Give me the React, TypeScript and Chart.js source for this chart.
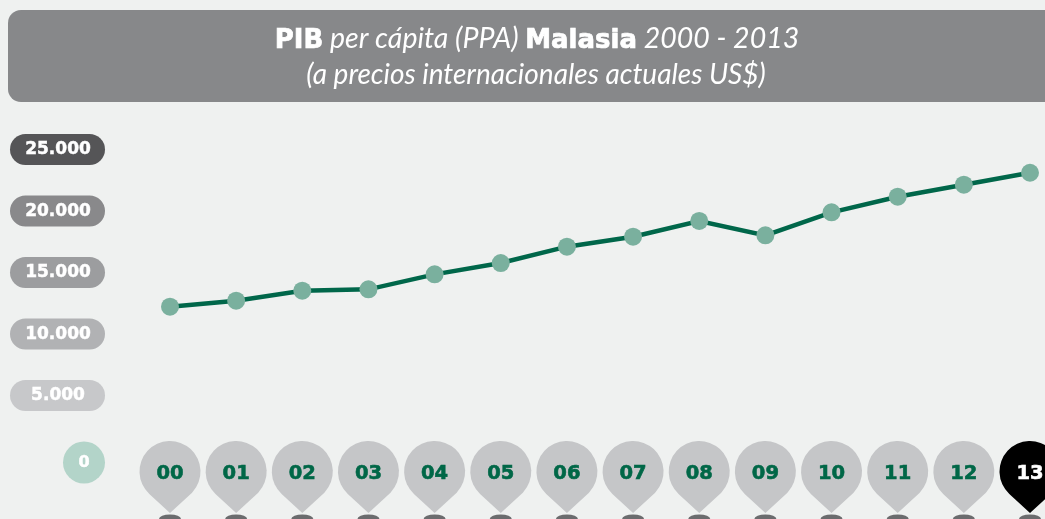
import { useEffect, useRef } from 'react';
import { Chart, registerables } from 'chart.js';

Chart.register(...registerables);

const years = ['00', '01', '02', '03', '04', '05', '06', '07', '08', '09', '10', '11', '12', '13'];
const gdpPerCapita = [12220, 12710, 13520, 13630, 14850, 15770, 17100, 17910, 19190, 18020, 19890, 21160, 22140, 23110];
const yTickValues = [0, 5000, 10000, 15000, 20000, 25000];
const yTickLabels = ['0', '5.000', '10.000', '15.000', '20.000', '25.000'];
const yTickColors = ['#b3d4c9', '#c7c8ca', '#b1b2b4', '#9c9d9f', '#89898b', '#555557'];
const titleLine1 = [
  { text: 'PIB', bold: true },
  { text: ' per cápita (PPA) ', bold: false },
  { text: 'Malasia', bold: true },
  { text: ' 2000 - 2013', bold: false },
];
const titleLine2 = '(a precios internacionales actuales US$)';

const LIGHT = 'Lato, "Open Sans", sans-serif';
const HEAVY = '"DejaVu Sans", Lato, sans-serif';
const BG = '#eff1f0';

function roundRect(ctx: CanvasRenderingContext2D, x: number, y: number, w: number, h: number, r: number) {
  ctx.beginPath();
  ctx.moveTo(x + r, y);
  ctx.lineTo(x + w - r, y);
  ctx.arcTo(x + w, y, x + w, y + r, r);
  ctx.lineTo(x + w, y + h - r);
  ctx.arcTo(x + w, y + h, x + w - r, y + h, r);
  ctx.lineTo(x + r, y + h);
  ctx.arcTo(x, y + h, x, y + h - r, r);
  ctx.lineTo(x, y + r);
  ctx.arcTo(x, y, x + r, y, r);
  ctx.closePath();
}

function heavyText(ctx: CanvasRenderingContext2D, text: string, x: number, y: number, color: string, w: number) {
  ctx.fillStyle = color;
  ctx.strokeStyle = color;
  ctx.lineWidth = w;
  ctx.lineJoin = 'miter';
  ctx.strokeText(text, x, y);
  ctx.fillText(text, x, y);
}

const decorPlugin = {
  id: 'decor',
  beforeDraw(chart: any) {
    const ctx: CanvasRenderingContext2D = chart.ctx;
    ctx.save();
    ctx.fillStyle = BG;
    ctx.fillRect(0, 0, chart.width, chart.height);
    // title box
    ctx.fillStyle = '#87888a';
    roundRect(ctx, 8, 10, 1070, 92, 13);
    ctx.fill();
    ctx.textBaseline = 'alphabetic';
    ctx.textAlign = 'left';
    const fontFor = (b: boolean) => (b ? `bold 26px ${HEAVY}` : `italic 28.5px ${LIGHT}`);
    let total = 0;
    for (const s of titleLine1) {
      ctx.font = fontFor(s.bold);
      total += ctx.measureText(s.text).width;
    }
    let x = 537 - total / 2;
    for (const s of titleLine1) {
      ctx.font = fontFor(s.bold);
      if (s.bold) heavyText(ctx, s.text, x, 48, '#ffffff', 0.7);
      else {
        ctx.fillStyle = '#ffffff';
        ctx.fillText(s.text, x, 48);
      }
      x += ctx.measureText(s.text).width;
    }
    ctx.fillStyle = '#ffffff';
    ctx.font = `italic 28px ${LIGHT}`;
    ctx.textAlign = 'center';
    ctx.fillText(titleLine2, 536, 84);
    ctx.restore();
  },
  beforeDatasetsDraw(chart: any) {
    const ctx: CanvasRenderingContext2D = chart.ctx;
    const yScale = chart.scales.y;
    const xScale = chart.scales.x;
    ctx.save();
    ctx.textBaseline = 'middle';
    ctx.textAlign = 'center';
    // y tick pills
    yTickValues.forEach((v, i) => {
      const py = yScale.getPixelForValue(v);
      ctx.fillStyle = yTickColors[i];
      if (v === 0) {
        ctx.beginPath();
        ctx.arc(84, py + 5.5, 21, 0, Math.PI * 2);
        ctx.fill();
        ctx.font = `bold 16px ${HEAVY}`;
        heavyText(ctx, yTickLabels[i], 84, py + 6, '#ffffff', 0.5);
      } else {
        roundRect(ctx, 10, py - 15.5, 95, 31, 15.5);
        ctx.fill();
        ctx.font = `bold 17px ${HEAVY}`;
        heavyText(ctx, yTickLabels[i], 58, py + 0.5, '#ffffff', 0.5);
      }
    });
    // x balloons
    const base = yScale.getPixelForValue(0);
    const cy = base + 14.5;
    const r = 30.5;
    const tipY = base + 56;
    const theta = Math.acos(r / (tipY - cy));
    years.forEach((lab, i) => {
      const px = xScale.getPixelForValue(i);
      const last = i === years.length - 1;
      ctx.fillStyle = '#6b6c6e';
      ctx.beginPath();
      ctx.ellipse(px, tipY + 6, 11, 4.5, 0, 0, Math.PI * 2);
      ctx.fill();
      ctx.fillStyle = last ? '#000000' : '#c5c6c8';
      ctx.beginPath();
      ctx.arc(px, cy, r, Math.PI / 2 + theta, Math.PI / 2 - theta + Math.PI * 2);
      ctx.lineTo(px, tipY);
      ctx.closePath();
      ctx.fill();
      ctx.font = `bold 19.5px ${HEAVY}`;
      heavyText(ctx, lab, px, cy + 2.5, last ? '#ffffff' : '#006747', 0.6);
    });
    ctx.restore();
  },
};

export default function App() {
  const ref = useRef<HTMLCanvasElement | null>(null);
  useEffect(() => {
    document.body.style.margin = '0';
    document.body.style.background = BG;
    const chart = new Chart(ref.current as HTMLCanvasElement, {
      type: 'line',
      data: {
        labels: years,
        datasets: [
          {
            data: gdpPerCapita,
            borderColor: '#00674a',
            borderWidth: 4.5,
            pointBackgroundColor: '#7ab09e',
            pointBorderColor: '#7ab09e',
            pointBorderWidth: 0,
            pointRadius: 9,
            tension: 0,
            clip: false as any,
          },
        ],
      },
      options: {
        responsive: false,
        animation: false,
        layout: { padding: { top: 149.5, bottom: 62, left: 170, right: 15 } },
        plugins: { legend: { display: false }, tooltip: { enabled: false }, title: { display: false } },
        scales: {
          x: { display: false, offset: false },
          y: { display: false, min: 0, max: 25000, ticks: { stepSize: 5000 } },
        },
      },
      plugins: [decorPlugin],
    });
    return () => chart.destroy();
  }, []);
  return <canvas ref={ref} width={1045} height={519} style={{ display: 'block' }} />;
}
